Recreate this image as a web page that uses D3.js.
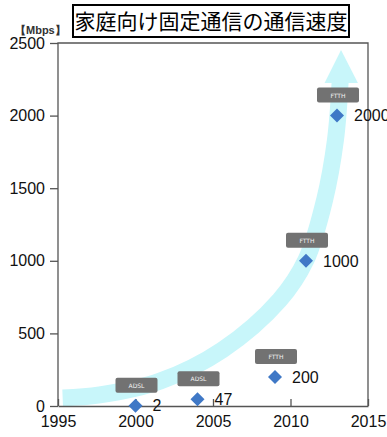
<!DOCTYPE html>
<html>
<head>
<meta charset="utf-8">
<script src="https://cdn.jsdelivr.net/npm/d3@7"></script>
<style>
  body { margin: 0; background: #fff; }
  svg { display: block; overflow: visible; }
</style>
</head>
<body>
<svg id="chart"></svg>
<script>
// ---- data
var titleText = "家庭向け固定通信の通信速度";
var unitText = "【Mbps】";
var years = [2000, 2004, 2009, 2011, 2013];
var speeds = [2, 47, 200, 1000, 2000];
var techs = ["ADSL", "ADSL", "FTTH", "FTTH", "FTTH"];
var xTicks = [1995, 2000, 2005, 2010, 2015];
var yTicks = [0, 500, 1000, 1500, 2000, 2500];
// decorative trend arrow, centre line in data units (year, Mbps)
var arrowYears = [1995.3, 1997.7, 2001.6, 2005.6, 2009.3, 2011.0, 2012.2, 2012.9, 2013.2];
var arrowValues = [55, 76, 172, 386, 730, 1006, 1419, 1832, 2230];
var arrowHeadYears = [2012.2, 2013.26, 2014.35];
var arrowHeadValues = [2225, 2452, 2225];

var W = 387, H = 437;
var margin = {top: 43, right: 19, bottom: 31, left: 58};

var svg = d3.select("#chart").attr("width", W).attr("height", H);

var x = d3.scaleLinear().domain([1995, 2015]).range([margin.left, W - margin.right]);
var y = d3.scaleLinear().domain([0, 2500]).range([H - margin.bottom, margin.top]);

var points = years.map(function(d, i) { return {year: d, value: speeds[i], tech: techs[i]}; });

// ---- trend arrow
var line = d3.line().curve(d3.curveCatmullRom.alpha(0.5))
  .x(function(d) { return x(d[0]); })
  .y(function(d) { return y(d[1]); });

svg.append("path")
  .attr("d", line(d3.zip(arrowYears, arrowValues)))
  .style("fill", "none")
  .style("stroke", "#c8f6fa")
  .style("stroke-width", 17);

svg.append("path")
  .attr("d", d3.line().x(function(d) { return x(d[0]); }).y(function(d) { return y(d[1]); })(d3.zip(arrowHeadYears, arrowHeadValues)) + "Z")
  .style("fill", "#c8f6fa");

// ---- frame (left, top, right)
svg.append("path")
  .attr("d", "M" + x(1995) + "," + y(0) + "V" + y(2500) + "H" + x(2015) + "V" + y(0))
  .style("fill", "none")
  .style("stroke", "#555")
  .style("stroke-width", 1.3);

// y axis
var yAxis = svg.append("g")
  .attr("transform", "translate(" + x(1995) + ",0)")
  .call(d3.axisLeft(y).tickValues(yTicks).tickSize(8).tickPadding(5).tickFormat(d3.format("d")));
yAxis.select(".domain").remove();
yAxis.selectAll("line").style("stroke", "#555").style("stroke-width", 1.3);
yAxis.selectAll("text")
  .style("font-family", "'Liberation Sans', Arial, sans-serif")
  .style("font-size", "16px")
  .style("fill", "#111");

// x axis, ticks point inward
var xAxis = svg.append("g")
  .attr("transform", "translate(0," + y(0) + ")")
  .call(d3.axisBottom(x).tickValues(xTicks).tickSize(0).tickPadding(10).tickFormat(d3.format("d")));
xAxis.select(".domain").style("stroke", "#555").style("stroke-width", 1.3);
xAxis.selectAll(".tick line").attr("y2", -7).style("stroke", "#555").style("stroke-width", 1.3);
xAxis.selectAll("text")
  .style("font-family", "'Liberation Sans', Arial, sans-serif")
  .style("font-size", "16px")
  .style("fill", "#111");

// ---- tech badges
var badges = svg.selectAll(".badge")
  .data(points)
  .enter().append("g")
  .attr("class", "badge")
  .attr("transform", function(d) { return "translate(" + (x(d.year) + 1) + "," + (y(d.value) - 20) + ")"; });

badges.append("rect")
  .attr("x", -21).attr("y", -8)
  .attr("width", 42).attr("height", 15)
  .attr("rx", 2)
  .style("fill", "#727272");

badges.append("text")
  .attr("y", 2)
  .style("text-anchor", "middle")
  .style("font-family", "'DejaVu Sans', sans-serif")
  .style("font-size", "6px")
  .style("fill", "#f2f2f2")
  .text(function(d) { return d.tech; });

// ---- diamonds
svg.selectAll(".dot")
  .data(points)
  .enter().append("path")
  .attr("class", "dot")
  .attr("d", d3.symbol().type(d3.symbolSquare).size(98))
  .attr("transform", function(d) { return "translate(" + x(d.year) + "," + y(d.value) + ") rotate(45)"; })
  .style("fill", "#3f78c6");

// value labels (the last one runs past the right edge, as in the source image)
svg.selectAll(".valueLabel")
  .data(points)
  .enter().append("text")
  .attr("class", "valueLabel")
  .attr("x", function(d) { return x(d.year) + 17; })
  .attr("y", function(d) { return y(d.value); })
  .attr("dy", "0.36em")
  .style("font-family", "'Liberation Sans', Arial, sans-serif")
  .style("font-size", "16px")
  .style("fill", "#111")
  .text(function(d) { return d.value; });

// ---- title & unit
svg.append("rect")
  .attr("x", 73).attr("y", 5)
  .attr("width", 276).attr("height", 32)
  .style("fill", "#fff")
  .style("stroke", "#000")
  .style("stroke-width", 2);

svg.append("text")
  .attr("x", 211).attr("y", 29)
  .style("text-anchor", "middle")
  .style("font-family", "'Noto Sans CJK JP', sans-serif")
  .style("font-size", "21px")
  .style("fill", "#000")
  .text(titleText);

svg.append("text")
  .attr("x", 15).attr("y", 34)
  .style("font-family", "'Liberation Sans', Arial, sans-serif")
  .style("font-size", "11px")
  .style("font-weight", "bold")
  .style("fill", "#333")
  .text(unitText);
</script>
</body>
</html>
